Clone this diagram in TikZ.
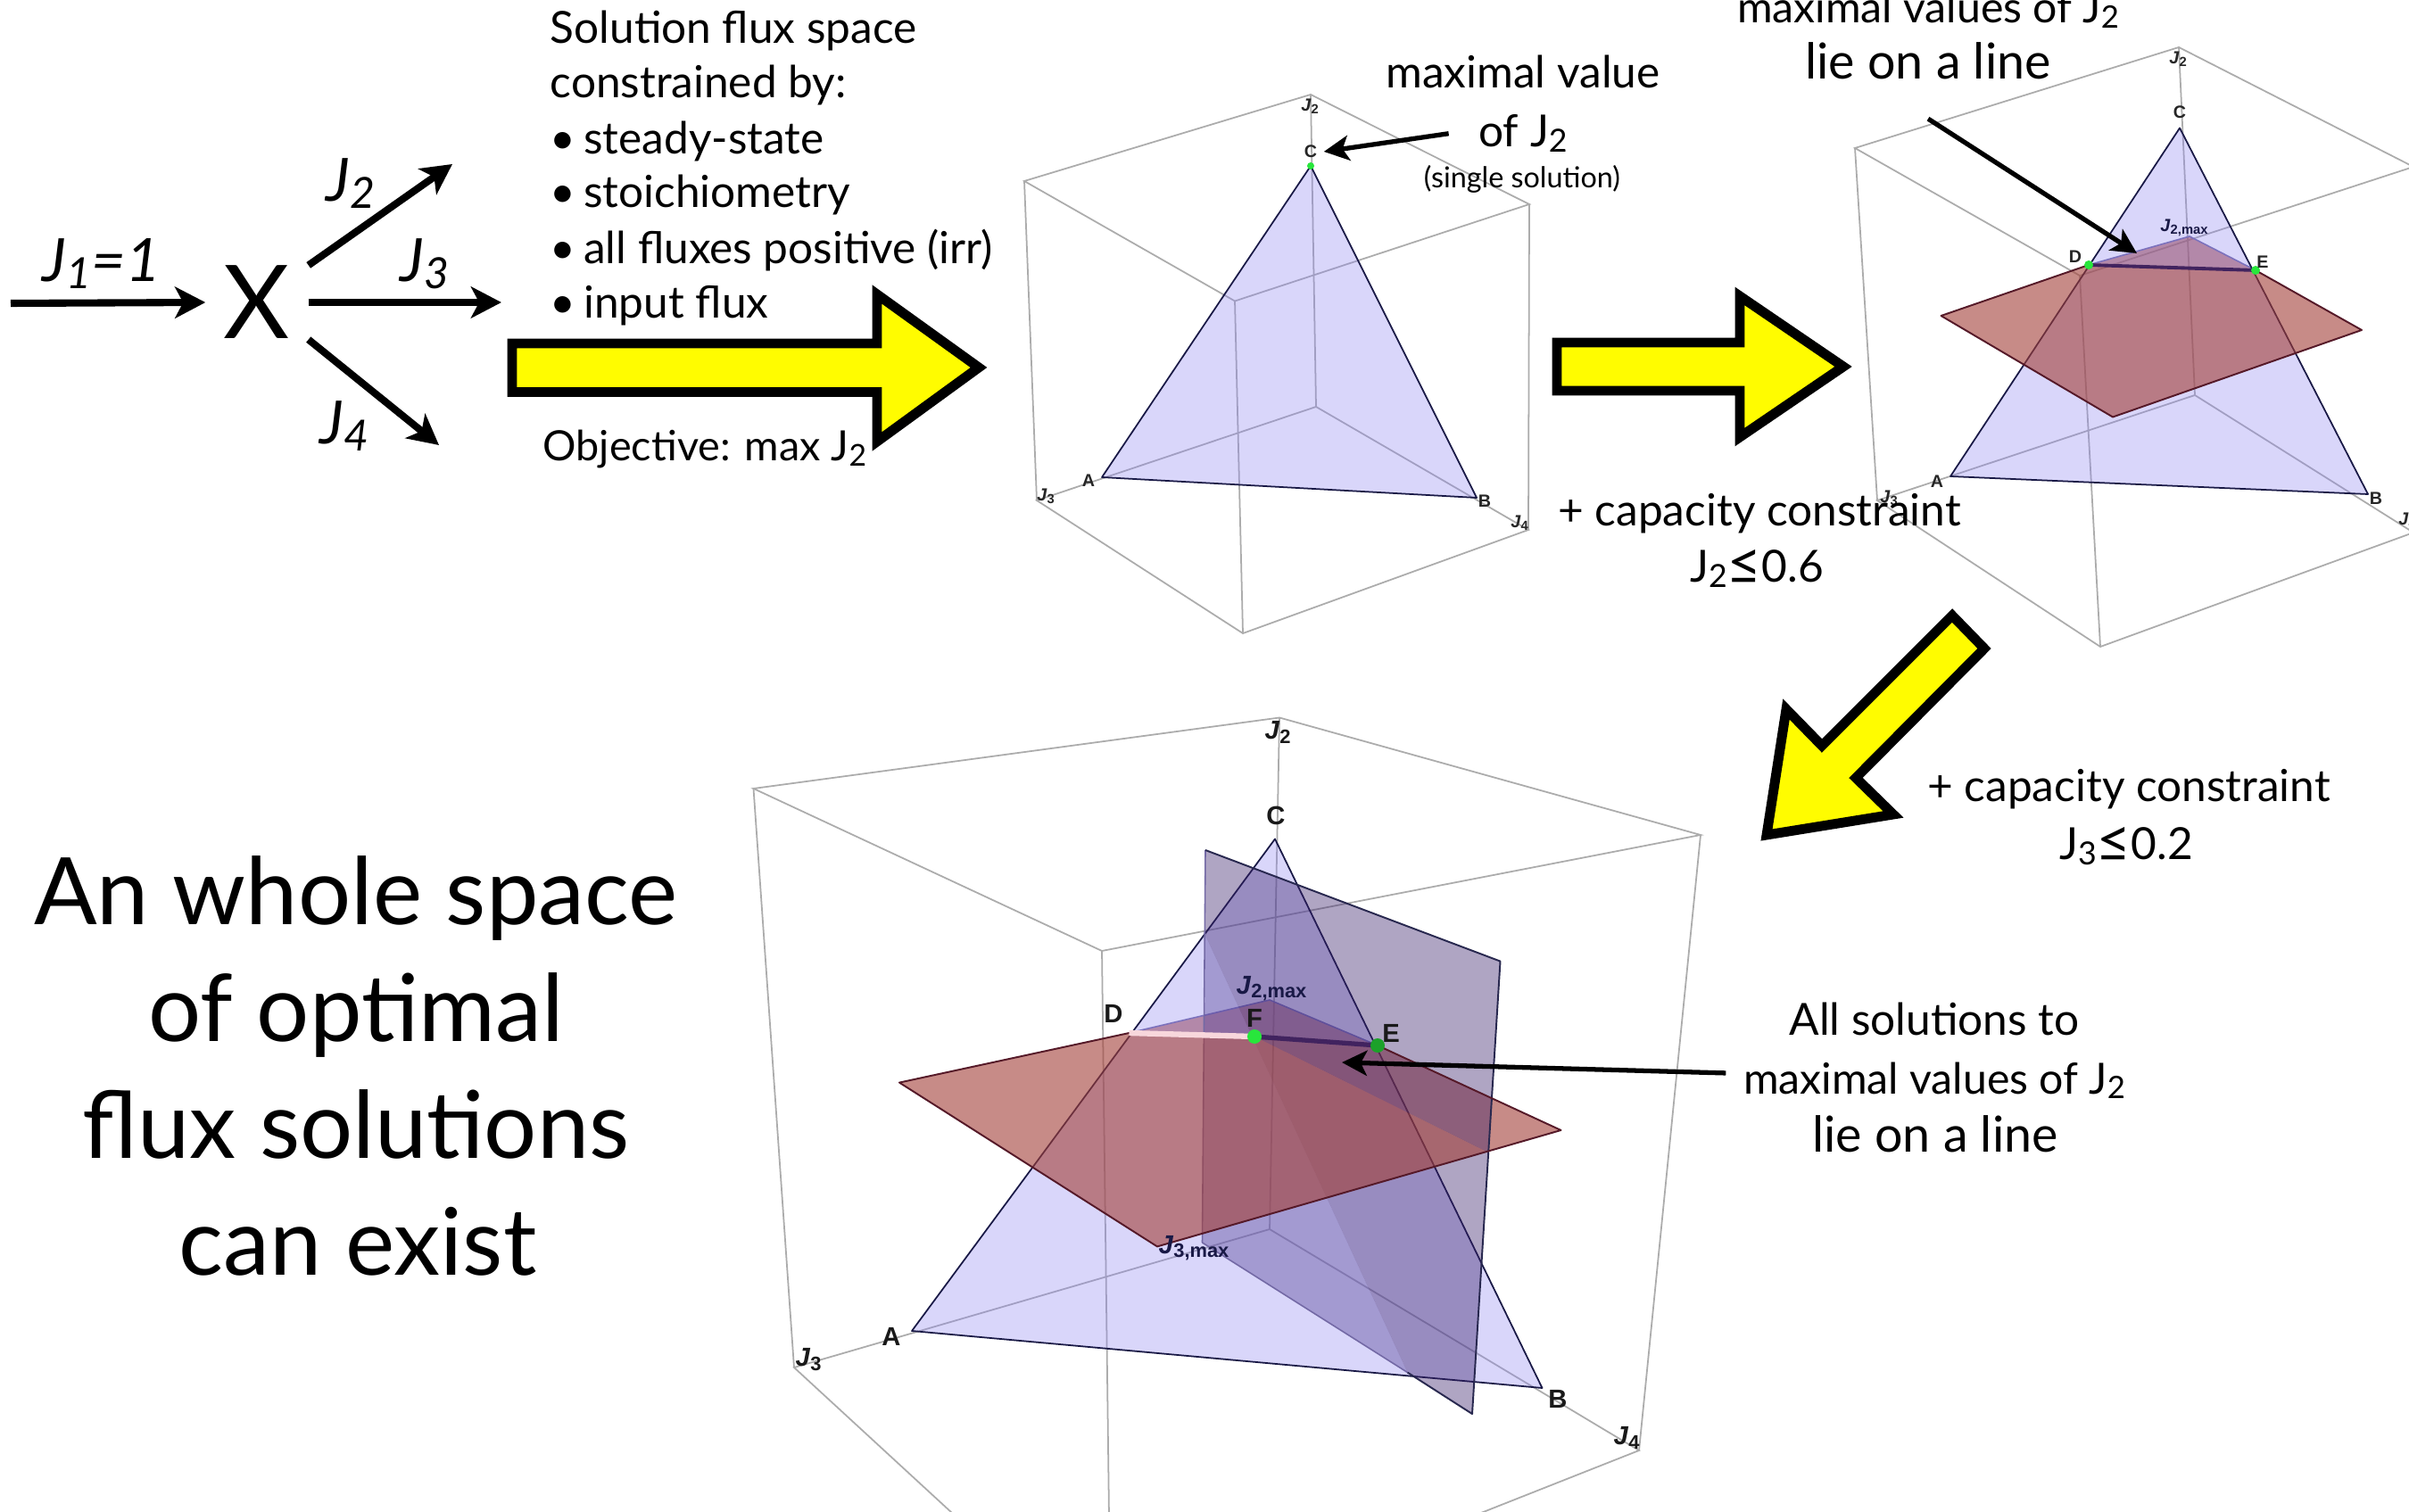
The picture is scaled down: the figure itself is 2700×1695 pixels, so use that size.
\documentclass[tikz,border=0pt]{standalone}
\usepackage{fontspec}
\setmainfont{Lato}
\newfontfamily\plotfont{Liberation Sans}
\usetikzlibrary{arrows.meta,calc}
\newcommand{\numlow}[1]{\raisebox{-.22ex}{\scalebox{.72}{#1}}}
\newcommand{\plotsub}[1]{\raisebox{-.3ex}{\scalebox{.75}{#1}}}
\newcommand{\bigle}{\raisebox{-.1ex}{\scalebox{1.35}{≤}}}
\newcommand{\fs}[1]{\fontsize{#1pt}{#1pt}\selectfont}
\newcommand{\drawcube}[1]{%
  \draw[cubeline] (#1tb)--(#1lt)--(#1ft)--(#1rt)--cycle;
  \draw[cubeline] (#1lb)--(#1bb)--(#1rb)--(#1fb)--cycle;
  \draw[cubeline] (#1lt)--(#1lb) (#1rt)--(#1rb) (#1ft)--(#1fb) (#1tb)--(#1bb);
}
\definecolor{lavender}{RGB}{141,132,240}
\definecolor{planered}{RGB}{163,63,55}
\definecolor{planeviolet}{RGB}{55,30,105}
\definecolor{edgeblue}{RGB}{25,25,70}
\definecolor{edgered}{RGB}{85,25,40}
\definecolor{edgesoft}{RGB}{115,105,165}
\definecolor{gridgrey}{RGB}{172,172,172}
\definecolor{dotgreen}{RGB}{40,230,60}
\definecolor{dimgreen}{RGB}{28,161,42}
\definecolor{linepurple}{RGB}{65,35,95}
\definecolor{linepink}{RGB}{248,215,220}
\definecolor{signyellow}{RGB}{255,252,0}
\tikzset{
  cubeline/.style={draw=gridgrey,line width=.5pt},
  trifill/.style={fill=lavender,fill opacity=.33},
  redfill/.style={fill=planered,fill opacity=.6},
  vertfill/.style={fill=planeviolet,fill opacity=.4},
  triedge/.style={draw=edgeblue,line width=.5pt,line join=round},
  rededge/.style={draw=edgered,line width=.55pt,line join=round},
  vertedge/.style={draw=edgeblue!85!gray,line width=.55pt,line join=round},
  softedge/.style={draw=edgesoft,line width=.45pt},
  bigarrow/.style={draw=black,fill=signyellow,line width=3.1pt,miter limit=10},
  fluxarrow/.style={draw=black,line width=2.3pt,-{Stealth[length=9.7pt,width=10pt,inset=2.6pt]}},
  callout/.style={draw=black,line width=1.5pt,-{Stealth[length=8pt,width=8pt,inset=2pt]}},
  maintext/.style={inner sep=0pt,font=\fs{14.1}},
  widetext/.style={inner sep=0pt,font=\fs{15.8}},
  tighttext/.style={inner sep=0pt,font=\fs{13.7}},
  objtext/.style={inner sep=0pt,font=\fs{13.3}},
  smalltext/.style={inner sep=0pt,font=\fs{9.2}},
  bigtext/.style={inner sep=0pt,font=\fs{29.7}},
  fluxtext/.style={inner sep=0pt,font=\fs{19}\itshape},
  smallmark/.style={inner sep=0pt,text=black!85,font=\plotfont\bfseries\fontsize{5.6pt}{6pt}\selectfont},
  largemark/.style={inner sep=0pt,text=black!90,font=\plotfont\bfseries\fontsize{8.3pt}{9pt}\selectfont},
  greendot/.style={fill=dotgreen,draw=none},
  dimdot/.style={fill=dimgreen,draw=none},
}
\begin{document}
\begin{tikzpicture}[x=0.01cm,y=-0.01cm]
\useasboundingbox (0,0) rectangle (2700,1695);
\clip (0,0) rectangle (2700,1695);
\fill[white] (0,0) rectangle (2700,1695);

% ---------- cube 1
\coordinate (atb) at (1469,106); \coordinate (alt) at (1148,203);
\coordinate (art) at (1714,229); \coordinate (aft) at (1384,337.5);
\coordinate (abb) at (1475,456); \coordinate (alb) at (1162,561);
\coordinate (arb) at (1713,594); \coordinate (afb) at (1393,710);
\coordinate (aA) at (1235,535); \coordinate (aB) at (1655,558); \coordinate (aC) at (1469,186);
\drawcube{a}
\fill[trifill] (aA)--(aB)--(aC)--cycle;
\draw[triedge] (aA)--(aB)--(aC)--cycle;
\fill[greendot] (aC) circle (4);
\node[smallmark] (aJ2) at (1468,119) {\textit{J}\plotsub{2}};
\node[smallmark,inner xsep=.07cm] (aClab) at (1469,170) {C};
\node[smallmark] (aAlab) at (1220,539) {A};
\node[smallmark] (aBlab) at (1664,562) {B};
\node[smallmark] (aJ3) at (1172,556) {\textit{J}\plotsub{3}};
\node[smallmark] (aJ4) at (1703,586) {\textit{J}\plotsub{4}};

% ---------- cube 2
\coordinate (btb) at (2442,53); \coordinate (blt) at (2079,166);
\coordinate (brt) at (2705,187); \coordinate (bft) at (2331,309);
\coordinate (bbb) at (2460,443); \coordinate (blb) at (2104,561);
\coordinate (brb) at (2705,597); \coordinate (bfb) at (2354,725);
\coordinate (bA) at (2186,534); \coordinate (bB) at (2654,554); \coordinate (bC) at (2443,143.5);
\coordinate (bD) at (2341,297); \coordinate (bE) at (2528,303);
\coordinate (bPl) at (2175.5,354); \coordinate (bPr) at (2647,370);
\coordinate (bPb) at (2368,467.5); \coordinate (bPt) at (2454,265);
\drawcube{b}
\fill[redfill] (bD)--(bPt)--(bE)--cycle;
\draw[softedge] (bD)--(bPt)--(bE);
\fill[trifill] (bA)--(bB)--(bC)--cycle;
\draw[triedge] (bA)--(bB)--(bC)--cycle;
\fill[redfill] (bD)--(bPl)--(bPb)--(bPr)--(bE)--cycle;
\draw[rededge] (bD)--(bPl)--(bPb)--(bPr)--(bE);
\draw[draw=linepurple,line width=1.1pt] (bD)--(bE);
\fill[greendot] (bD) circle (5) (bE) circle (5);
\node[smallmark] (bJ2) at (2441,66) {\textit{J}\plotsub{2}};
\node[smallmark] (bClab) at (2443,126) {C};
\node[smallmark] (bDlab) at (2326,288) {D};
\node[smallmark] (bElab) at (2536,294) {E};
\node[smallmark,text=edgeblue] (bJmax) at (2448,255) {\textit{J}\plotsub{2,max}};
\node[smallmark] (bAlab) at (2171,540) {A};
\node[smallmark] (bBlab) at (2663,559) {B};
\node[smallmark] (bJ3) at (2117,558) {\textit{J}\plotsub{3}};
\node[smallmark] (bJ4) at (2698,583) {\textit{J}\plotsub{4}};

% ---------- cube 3
\coordinate (ctb) at (1434,804.5); \coordinate (clt) at (844.5,884);
\coordinate (crt) at (1906,936); \coordinate (cft) at (1235,1066);
\coordinate (cbb) at (1423,1378); \coordinate (clb) at (890,1533);
\coordinate (crb) at (1837,1626); \coordinate (cfb) at (1245,1860);
\coordinate (cA) at (1022,1492); \coordinate (cB) at (1728.5,1556); \coordinate (cC) at (1429,940.5);
\coordinate (cD) at (1265.5,1158); \coordinate (cE) at (1544,1172); \coordinate (cF) at (1406,1162);
\coordinate (cPl) at (1008,1213.6); \coordinate (cPt) at (1423,1121);
\coordinate (cPr) at (1749.5,1267); \coordinate (cPb) at (1297,1397.4);
\coordinate (cH) at (1665,1290.6);
\coordinate (cVa) at (1351,953); \coordinate (cVb) at (1681.5,1077.6);
\coordinate (cVc) at (1650,1585); \coordinate (cVd) at (1347.5,1393);
\coordinate (cVm) at (1351,1048.4); \coordinate (cG) at (1577.6,1538.6);
\drawcube{c}
\fill[redfill] (cD)--(cPt)--(cE)--cycle;
\draw[softedge] (cD)--(cPt)--(cE);
\fill[vertfill] (cVm)--(cG)--(cVd)--cycle;
\fill[trifill] (cA)--(cB)--(cC)--cycle;
\draw[triedge] (cA)--(cB)--(cC)--cycle;
\fill[redfill] (cF)--(cE)--(cPr)--(cH)--cycle;
\fill[vertfill] (cVa)--(cVb)--(cVc)--(cG)--(cVm)--cycle;
\draw[softedge] (cVd)--(cVa) (cVd)--(cG);
\draw[vertedge] (cVa)--(cVb)--(cVc)--(cG);
\fill[redfill] (cD)--(cPl)--(cPb)--(cH)--(cF)--cycle;
\draw[rededge] (cD)--(cPl)--(cPb)--(cPr)--(cE);
\draw[draw=linepink,line width=1.8pt] (cD)--(cF);
\draw[draw=linepurple,line width=1.5pt] (cF)--(cE);
\fill[greendot] (cF) circle (8);
\fill[dimdot] (cE) circle (8);
\node[largemark] (cJ2) at (1432,821) {\textit{J}\plotsub{2}};
\node[largemark] (cClab) at (1430,914) {C};
\node[largemark] (cDlab) at (1248,1136) {D};
\node[largemark] (cFlab) at (1406,1141) {F};
\node[largemark] (cElab) at (1559,1158) {E};
\node[largemark,text=edgeblue] (cJ2max) at (1425,1108) {\textit{J}\plotsub{2,max}};
\node[largemark,text=edgeblue] (cJ3max) at (1338,1399) {\textit{J}\plotsub{3,max}};
\node[largemark] (cAlab) at (999,1498) {A};
\node[largemark] (cBlab) at (1746,1568) {B};
\node[largemark] (cJ3) at (906,1524) {\textit{J}\plotsub{3}};
\node[largemark] (cJ4) at (1823,1612) {\textit{J}\plotsub{4}};

% ---------- yellow arrows
\draw[bigarrow] (574,385)--(983,385)--(983,330)--(1097,412)--(983,495)--(983,439.5)--(574,439.5)--cycle;
\draw[bigarrow] (1745,384)--(1950,384)--(1950,332)--(2066,411)--(1950,490)--(1950,438)--(1745,438)--cycle;
\draw[bigarrow] (2188,690)--(2224,727)--(2080,872)--(2122,913)--(1980,936)--(2002,795)--(2042,836)--cycle;

% ---------- reaction
\node[inner sep=0pt,minimum width=1.14cm,minimum height=.76cm,font=\fs{32.5}] (X) at (288,339) {X};
\coordinate (inS) at (12,340);
\coordinate (outTwo) at (507,184);
\coordinate (outThree) at (562,339);
\coordinate (outFour) at (492,499);
\draw[fluxarrow] (inS)--(X.west);
\draw[fluxarrow] (X.north east)--(outTwo);
\draw[fluxarrow] (X.east)--(outThree);
\draw[fluxarrow] (X.south east)--(outFour);
\node[fluxtext,anchor=base west] (jOne) at (47,316) {J\numlow{1}=1};
\node[fluxtext,anchor=base west] (jTwo) at (365,226) {J\numlow{2}};
\node[fluxtext,anchor=base west] (jThree) at (448,316) {J\numlow{3}};
\node[fluxtext,anchor=base west] (jFour) at (358,498) {J\numlow{4}};

% ---------- first text block
\node[maintext,anchor=base west] (tA) at (616,49) {Solution flux space};
\node[maintext,anchor=base west] (tB) at (616,110) {constrained by:};
\node[maintext,anchor=base west] (tC) at (616,173) {•\hspace{.18em}steady-state};
\node[maintext,anchor=base west] (tD) at (616,233) {•\hspace{.18em}stoichiometry};
\node[maintext,anchor=base west] (tE) at (616,296) {•\hspace{.18em}all fluxes positive (irr)};
\node[maintext,anchor=base west] (tF) at (616,357) {•\hspace{.18em}input flux};
\node[objtext,anchor=base west] (tG) at (608,517) {Objective: max J\numlow{2}};

% ---------- cube 1 text
\node[maintext,anchor=base] (mvA) at (1707,99) {maximal value};
\node[maintext,anchor=base,inner xsep=.33cm] (mvB) at (1707,165) {of J\numlow{2}};
\node[smalltext,anchor=base] (mvC) at (1706,211) {(single solution)};
\draw[callout] (mvB.west)--(aClab.east);

% ---------- capacity 1
\node[maintext,anchor=base] (capA) at (1972,590) {+ capacity constraint};
\node[maintext,anchor=base] (capB) at (1969,653) {J\numlow{2}\bigle 0.6};

% ---------- cube 2 text
\node[tighttext,anchor=base] (lnA) at (2161,26) {maximal values of J\numlow{2}};
\node[widetext,anchor=base,inner ysep=.43cm] (lnB) at (2161,89) {lie on a line};
\coordinate (lnTip) at (2395,284);
\draw[callout] (lnB.south)--(lnTip);

% ---------- capacity 2
\node[maintext,anchor=base] (capC) at (2386,899) {+ capacity constraint};
\node[maintext,anchor=base] (capD) at (2383,964) {J\numlow{3}\bigle 0.2};

% ---------- cube 3 text
\node[maintext,anchor=base] (asA) at (2168,1160) {All solutions to};
\node[tighttext,anchor=base,inner xsep=.19cm] (asB) at (2168,1226) {maximal values of J\numlow{2}};
\node[widetext,anchor=base] (asC) at (2169,1291) {lie on a line};
\coordinate (asTip) at (1504,1191);
\draw[callout] ([yshift=.08cm]asB.west)--(asTip);

% ---------- big text
\node[bigtext,anchor=base] (bgA) at (399,1036) {An whole space};
\node[bigtext,anchor=base] (bgB) at (399,1167) {of optimal};
\node[bigtext,anchor=base] (bgC) at (399,1298) {flux solutions};
\node[bigtext,anchor=base] (bgD) at (401,1429) {can exist};
\end{tikzpicture}
\end{document}
